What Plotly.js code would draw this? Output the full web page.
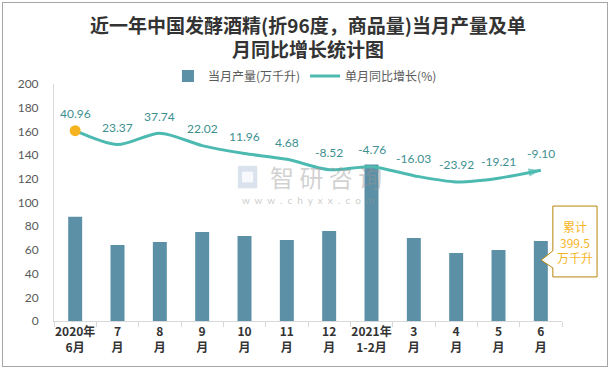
<!DOCTYPE html>
<html>
<head>
<meta charset="utf-8">
<script src="https://cdn.plot.ly/plotly-3.0.1.min.js"></script>
<style>
  html, body { margin: 0; padding: 0; background: #fff; }
  #wrap { position: relative; width: 611px; height: 370px; }
  #chart { width: 611px; height: 370px; }
  #frame { position: absolute; left: 2px; top: 2px; width: 604px; height: 363px;
           border: 1px solid #a6a6a6; pointer-events: none; }
</style>
</head>
<body>
<div id="wrap"><div id="chart"></div><div id="frame"></div></div>
<script>
// ---- data ----
const categories = ["2020年<br>6月", "7<br>月", "8<br>月", "9<br>月", "10<br>月", "11<br>月",
                    "12<br>月", "2021年<br>1-2月", "3<br>月", "4<br>月", "5<br>月", "6<br>月"];
const production = [88.0, 64.1, 66.7, 75.1, 71.7, 68.4, 75.9, 132.0, 70.0, 57.4, 59.9, 67.5];
const growth = [40.96, 23.37, 37.74, 22.02, 11.96, 4.68, -8.52, -4.76, -16.03, -23.92, -19.21, -9.10];
const growthLabels = ["40.96", "23.37", "37.74", "22.02", "11.96", "4.68", "-8.52", "-4.76",
                      "-16.03", "-23.92", "-19.21", "-9.10"];
const yTicks = [0, 20, 40, 60, 80, 100, 120, 140, 160, 180, 200];
const seriesNames = ["当月产量(万千升)", "单月同比增长(%)"];
const cumulativeText = "累计<br>399.5<br>万千升";

const numFont = "Lato, 'Noto Sans CJK SC', sans-serif";
const cjkFont = "'Noto Sans CJK SC', sans-serif";
const teal = "#4dbab2";
const labelColor = "#3d9090";
const n = categories.length;

const traces = [
  {
    type: "bar", x: categories, y: production, name: seriesNames[0],
    marker: { color: "#5b90a6" }, width: 0.33, hoverinfo: "y"
  },
  {
    type: "scatter", mode: "lines", x: categories, y: growth, yaxis: "y2",
    name: seriesNames[1], line: { color: teal, width: 3, shape: "spline", smoothing: 0.8 }
  },
  // arrow head at the last point (direction from the previous point)
  {
    type: "scatter", mode: "markers", yaxis: "y2", showlegend: false,
    x: categories.slice(n - 2), y: growth.slice(n - 2),
    marker: { symbol: "arrow", size: [0, 13], color: teal, angleref: "previous",
              line: { width: 0 } }
  },
  // highlighted first point
  {
    type: "scatter", mode: "markers", yaxis: "y2", showlegend: false,
    x: categories.slice(0, 1), y: growth.slice(0, 1),
    marker: { symbol: "circle", size: 11, color: "#f5b41f", line: { width: 0 } }
  }
];

const annotations = growth.map((v, i) => ({
  x: categories[i], y: v, xref: "x", yref: "y2", yshift: 17, showarrow: false,
  xanchor: "center", yanchor: "middle",
  text: growthLabels[i], font: { family: numFont, size: 12, color: labelColor }
}));

// watermark
annotations.push({
  xref: "paper", yref: "paper", x: 0.535, y: 0.61, xanchor: "center", yanchor: "middle",
  showarrow: false,
  text: "智 研 咨 询", font: { family: cjkFont, size: 24, color: "rgba(150,150,150,0.45)" }
});
annotations.push({
  xref: "paper", yref: "paper", x: 0.5, y: 0.51, xanchor: "center", yanchor: "middle",
  showarrow: false,
  text: "w  w  w  .  c  h  y  x  x  .  c  o  m",
  font: { family: numFont, size: 10, color: "rgba(150,150,150,0.5)" }
});
// callout text
annotations.push({
  xref: "paper", yref: "paper", x: 1.026, y: 0.335, xanchor: "center", yanchor: "middle",
  showarrow: false, text: cumulativeText, align: "center",
  font: { family: cjkFont, size: 12, color: "#f5b41f" }
});

const shapes = [
  // callout box with pointer
  { type: "path", xref: "paper", yref: "paper",
    path: "M 0.982 0.485 L 1.069 0.485 L 1.069 0.186 L 0.982 0.186 L 0.982 0.224 L 0.959 0.257 L 0.982 0.296 Z",
    fillcolor: "#ffffff", line: { color: "#b8860b", width: 1 } },
  // watermark logo
  { type: "rect", xref: "paper", yref: "paper", x0: 0.362, x1: 0.400, y0: 0.560, y1: 0.655,
    fillcolor: "rgba(170,190,215,0.45)", line: { width: 0 } },
  { type: "rect", xref: "paper", yref: "paper", x0: 0.370, x1: 0.392, y0: 0.585, y1: 0.630,
    fillcolor: "rgba(255,255,255,0.8)", line: { width: 0 } }
];

const layout = {
  width: 611, height: 370,
  margin: { l: 54, r: 49, t: 84, b: 49 },
  paper_bgcolor: "#ffffff", plot_bgcolor: "#ffffff",
  title: {
    text: "近一年中国发酵酒精(折96度，商品量)当月产量及单<br>月同比增长统计图",
    x: 0.5, xref: "paper", xanchor: "center", y: 0.912, yanchor: "top",
    font: { family: cjkFont, size: 19, color: "#333333", weight: 700 }
  },
  showlegend: true,
  legend: {
    orientation: "h", x: 0.494, xanchor: "center", y: 1.034, yanchor: "middle",
    font: { family: cjkFont, size: 12, color: "#595959" }, bgcolor: "rgba(0,0,0,0)"
  },
  xaxis: {
    type: "category", range: [-0.5, n - 0.5], autorange: false,
    showgrid: false, showline: true, linecolor: "#d9d9d9", linewidth: 1,
    ticks: "outside", tickson: "boundaries", ticklen: 5, tickcolor: "#d9d9d9",
    tickangle: 0, automargin: false,
    tickfont: { family: cjkFont, size: 12, color: "#333333", weight: 700 },
    fixedrange: true
  },
  yaxis: {
    range: [0, 200], tickvals: yTicks, showgrid: false, zeroline: false, automargin: false,
    showline: true, linecolor: "#d9d9d9", linewidth: 1, ticks: "", ticklabelstandoff: 12,
    tickfont: { family: numFont, size: 12, color: "#595959" }, fixedrange: true
  },
  yaxis2: {
    overlaying: "y", side: "right", range: [-200, 100], visible: false, fixedrange: true
  },
  bargap: 0.67,
  annotations: annotations,
  shapes: shapes
};

Plotly.newPlot("chart", traces, layout, { displayModeBar: false, staticPlot: true });
</script>
</body>
</html>
